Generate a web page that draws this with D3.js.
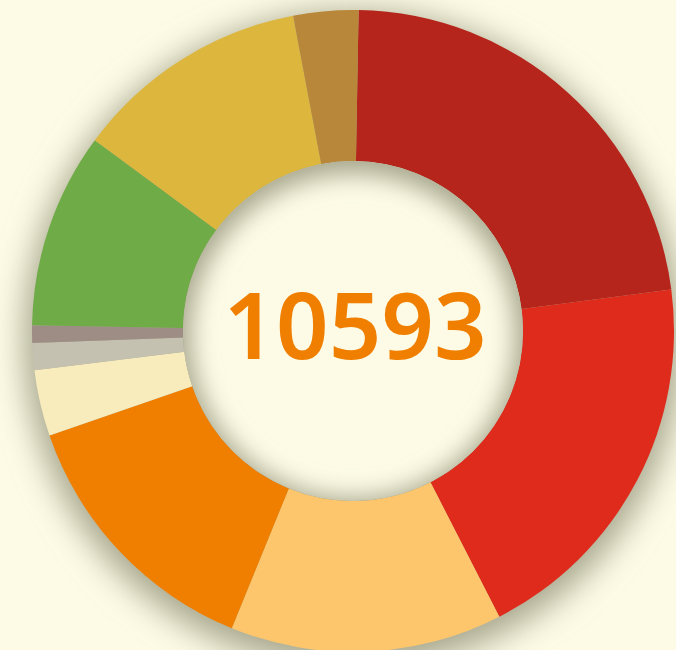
<!DOCTYPE html>
<meta charset="utf-8">
<style>
    html, body { margin: 0; padding: 0; background: #fdfbe6; }
    svg { display: block; }
    .total { font-family: "Noto Sans", sans-serif; font-weight: 600; fill: #f07f00; }
</style>
<body>
<script src="https://d3js.org/d3.v7.min.js"></script>
<script>
    // Data, clockwise from 12 o'clock
    var names = ["a", "b", "c", "d", "e", "f", "g", "h", "i", "j"];
    var values = [2400, 2069, 1451, 1436, 353, 143, 94, 1042, 1259, 346];
    var colors = ["#b5251b", "#df2b1c", "#fec66c", "#f07f00", "#f8ebbc",
                  "#c4c1b0", "#9d8d84", "#6fab47", "#ddb63e", "#b8873a"];

    var width = 676, height = 650;
    var cx = 353, cy = 331;
    var outerR = 321, innerR = 170;
    var startDeg = 1;

    var svg = d3.select("body").append("svg")
        .attr("width", width)
        .attr("height", height);

    var defs = svg.append("defs");

    // soft shadow under the ring
    var f = defs.append("filter").attr("id", "outerShadow")
        .attr("x", "-30%").attr("y", "-30%").attr("width", "160%").attr("height", "160%");
    f.append("feGaussianBlur").attr("in", "SourceGraphic").attr("stdDeviation", 16);

    // inner shadow inside the hole
    var f2 = defs.append("filter").attr("id", "innerShadow")
        .attr("x", "-30%").attr("y", "-30%").attr("width", "160%").attr("height", "160%");
    f2.append("feGaussianBlur").attr("in", "SourceGraphic").attr("stdDeviation", 12);

    defs.append("clipPath").attr("id", "holeClip")
        .append("circle").attr("cx", cx).attr("cy", cy).attr("r", innerR);

    svg.append("rect").attr("width", width).attr("height", height).attr("fill", "#fdfbe6");

    svg.append("circle")
        .attr("cx", cx).attr("cy", cy + 9)
        .attr("r", outerR + 8)
        .attr("fill", "#a8a78e")
        .attr("filter", "url(#outerShadow)");

    var g = svg.append("g").attr("transform", "translate(" + cx + "," + cy + ")");

    var a0 = startDeg * Math.PI / 180;
    var pie = d3.pie().sort(null).value(d => d)
        .startAngle(a0).endAngle(a0 + 2 * Math.PI);
    var arc = d3.arc().innerRadius(innerR).outerRadius(outerR);

    g.selectAll("path")
        .data(pie(values))
        .enter().append("path")
        .attr("d", arc)
        .attr("fill", (d, i) => colors[i]);

    // hole
    var hole = svg.append("g").attr("clip-path", "url(#holeClip)");
    hole.append("circle").attr("cx", cx).attr("cy", cy).attr("r", innerR).attr("fill", "#fdfbe6");
    hole.append("circle")
        .attr("cx", cx).attr("cy", cy + 5)
        .attr("r", innerR + 14)
        .attr("fill", "none")
        .attr("stroke", "#a8a78e")
        .attr("stroke-width", 44)
        .attr("filter", "url(#innerShadow)");

    svg.append("text")
        .attr("class", "total")
        .attr("x", 355)
        .attr("y", cy + 28)
        .attr("text-anchor", "middle")
        .attr("font-size", 92)
        .text(d3.sum(values));
</script>
</body>
